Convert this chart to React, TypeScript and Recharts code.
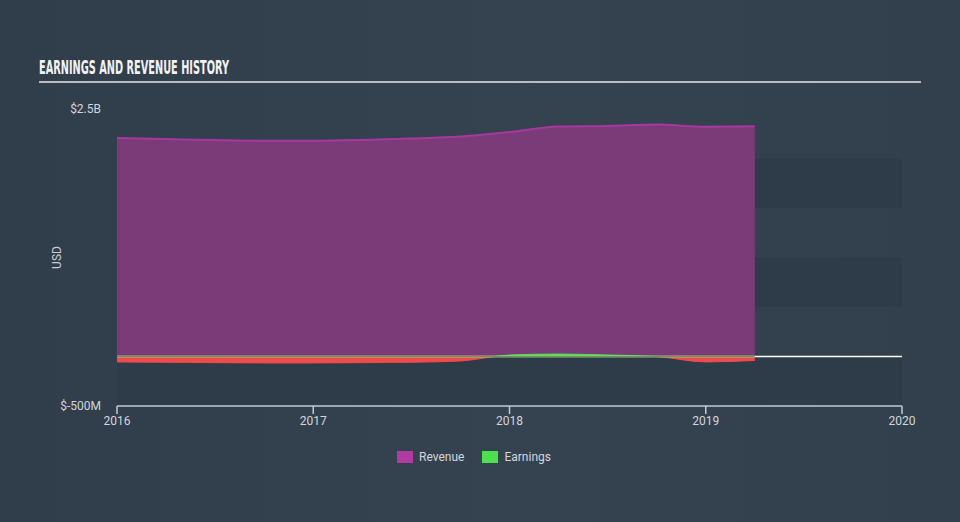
import {
  ComposedChart,
  Area,
  XAxis,
  YAxis,
  ReferenceArea,
  ReferenceLine,
} from 'recharts';

// quarterly points, fractional years
const periods = [2016, 2016.25, 2016.5, 2016.75, 2017, 2017.25, 2017.5, 2017.75, 2018, 2018.25, 2018.5, 2018.75, 2019, 2019.25];
const revenue = [2.206e9, 2.196e9, 2.186e9, 2.179e9, 2.179e9, 2.186e9, 2.201e9, 2.222e9, 2.267e9, 2.323e9, 2.328e9, 2.343e9, 2.321e9, 2.325e9];
const earnings = [-55e6, -58e6, -62e6, -65e6, -65e6, -62e6, -58e6, -45e6, 15e6, 25e6, 15e6, 0, -55e6, -40e6];

const xTicks = [2016, 2017, 2018, 2019, 2020];
const yTicks = [-5e8, 2.5e9];
const bands: [number, number][] = [
  [1.5e9, 2e9],
  [5e8, 1e9],
  [-5e8, 0],
];

const data = periods.map((t, i) => ({ t, revenue: revenue[i], earnings: earnings[i] }));

const eMax = Math.max(...earnings);
const eMin = Math.min(...earnings);
const splitAt = eMax / (eMax - eMin);

const fmtUsd = (v: number) => {
  if (Math.abs(v) >= 1e9) return `$${v / 1e9}B`;
  return `$${v / 1e6}M`;
};

const font = 'Roboto, "Open Sans", sans-serif';

const ChartLegend = () => (
  <div
    style={{
      position: 'absolute',
      top: 450,
      left: -6,
      width: 960,
      display: 'flex',
      justifyContent: 'center',
      fontFamily: font,
      fontSize: 12,
      color: '#d3d7db',
    }}
  >
    <div style={{ display: 'flex', alignItems: 'center', marginRight: 18 }}>
      <span style={{ width: 16, height: 12, background: '#b03a9f', marginRight: 6, display: 'inline-block' }} />
      Revenue
    </div>
    <div style={{ display: 'flex', alignItems: 'center' }}>
      <span style={{ width: 16, height: 12, background: '#4fe04f', marginRight: 6, display: 'inline-block' }} />
      Earnings
    </div>
  </div>
);

export default function App() {
  return (
    <div
      style={{
        position: 'absolute',
        left: 0,
        top: 0,
        width: 960,
        height: 522,
        background: 'linear-gradient(90deg, #303d4b 0%, #354250 55%, #323f4c 100%)',
        overflow: 'hidden',
      }}
    >
      <svg width={960} height={100} style={{ position: 'absolute', left: 0, top: 0 }}>
        <text
          x={39}
          y={74}
          textLength={190}
          lengthAdjust="spacingAndGlyphs"
          fill="#f2f2f2"
          fontFamily='"DejaVu Sans Condensed", "DejaVu Sans", sans-serif'
          fontWeight="bold"
          fontSize={19}
        >
          EARNINGS AND REVENUE HISTORY
        </text>
        <rect x={39} y={81} width={882} height={2} fill="#b9bdc2" />
      </svg>
      <div style={{ position: 'absolute', left: 0, top: 0 }}>
        <ComposedChart width={960} height={522} data={data} margin={{ top: 109, right: 58, bottom: 86, left: 0 }}>
          <defs>
            <linearGradient id="earnFill" x1="0" y1="0" x2="0" y2="1">
              <stop offset={0} stopColor="#4fe04f" />
              <stop offset={splitAt} stopColor="#4fe04f" />
              <stop offset={splitAt} stopColor="#f04b4b" />
              <stop offset={1} stopColor="#f04b4b" />
            </linearGradient>
          </defs>
          <XAxis
            dataKey="t"
            type="number"
            domain={[2016, 2020]}
            ticks={xTicks}
            height={30}
            axisLine={{ stroke: '#c3cad1', strokeWidth: 1.5 }}
            tickLine={{ stroke: '#c3cad1', strokeWidth: 1.5 }}
            tickSize={8}
            tickMargin={2}
            tick={{ fill: '#d3d7db', fontSize: 12, fontFamily: font }}
            interval={0}
          />
          <YAxis
            type="number"
            domain={[-5e8, 2.5e9]}
            ticks={yTicks}
            width={117}
            axisLine={false}
            tickLine={false}
            tickSize={0}
            tickMargin={16}
            tickFormatter={fmtUsd}
            tick={{ fill: '#d3d7db', fontSize: 12, fontFamily: font }}
            label={{
              content: (props: any) => {
                const vb = props.viewBox || { x: 0, y: 109, height: 297 };
                const cx = vb.x + 57;
                const cy = vb.y + vb.height / 2;
                return (
                  <text
                    x={cx}
                    y={cy}
                    transform={`rotate(-90 ${cx} ${cy})`}
                    textAnchor="middle"
                    dominantBaseline="central"
                    fill="#c9cdd2"
                    fontSize={12}
                    fontFamily={font}
                  >
                    USD
                  </text>
                );
              },
            }}
          />
          {bands.map(([a, b], i) => (
            <ReferenceArea key={i} y1={a} y2={b} fill="#2e3b49" fillOpacity={1} stroke="none" ifOverflow="hidden" />
          ))}
          <ReferenceLine y={0} stroke="#ffffff" strokeWidth={1.5} />
          <Area
            type="monotone"
            dataKey="revenue"
            stroke="#a8389f"
            strokeWidth={2}
            fill="#7b3a78"
            fillOpacity={1}
            isAnimationActive={false}
            dot={false}
            activeDot={false}
          />
          <ReferenceLine
            segment={[
              { x: periods[0], y: 0 },
              { x: periods[periods.length - 1], y: 0 },
            ]}
            stroke="#6a9a4c"
            strokeWidth={1.5}
          />
          <Area
            type="monotone"
            dataKey="earnings"
            stroke="url(#earnFill)"
            strokeWidth={1}
            fill="url(#earnFill)"
            fillOpacity={1}
            isAnimationActive={false}
            dot={false}
            activeDot={false}
          />
        </ComposedChart>
      </div>
      <ChartLegend />
    </div>
  );
}
